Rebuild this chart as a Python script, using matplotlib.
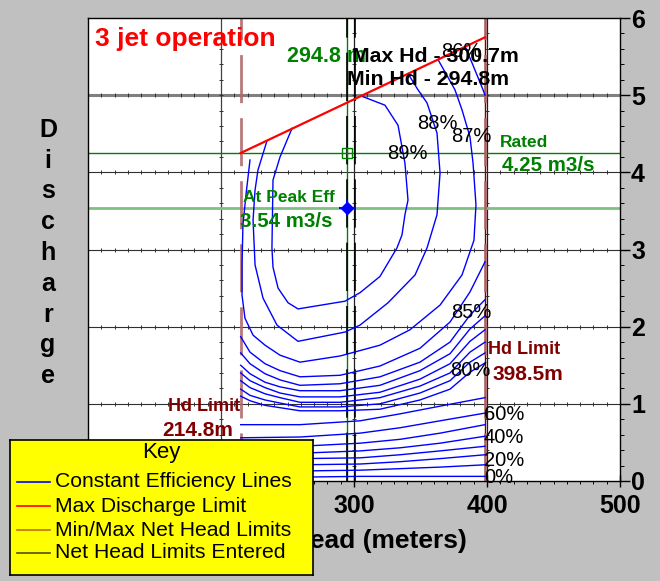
import numpy as np
import matplotlib
matplotlib.use("Agg")
import matplotlib.pyplot as plt
from matplotlib.ticker import MultipleLocator
from matplotlib.lines import Line2D

plt.rcParams['font.family'] = ['Liberation Sans', 'DejaVu Sans']

# ---- limits and operating points ----
hd_min, hd_max = 214.8, 398.5          # net head limits (m)
hd_entered_min, hd_entered_max = 294.8, 300.7
q_rated = 4.25
peak_head, peak_q = 294.8, 3.54
maxq_head = [214.8, 398.5]
maxq_q = [4.25, 5.75]

# ---- constant efficiency lines (head m, discharge m3/s) ----
eff89_h = [253.4, 244.4, 239.1, 238.3, 239.1, 242.9, 250.4, 257.9, 293.2, 304.5,
           319.5, 332.3, 336.1, 338.3, 340.6, 338.3, 333.1, 323.3, 305.3]
eff89_q = [4.57, 4.20, 3.90, 3.02, 2.77, 2.50, 2.31, 2.23, 2.33, 2.44,
           2.65, 3.02, 3.19, 3.45, 3.64, 4.12, 4.61, 4.87, 4.99]

eff88_h = [234.6, 227.8, 225.6, 224.1, 225.6, 231.6, 242.1, 257.9, 293.2, 304.5,
           325.6, 345.9, 354.9, 362.4, 364.7, 362.4, 354.9, 348.1, 340.6]
eff88_q = [4.41, 4.03, 3.77, 3.38, 2.80, 2.37, 2.02, 1.81, 1.93, 2.02,
           2.31, 2.67, 3.02, 3.45, 3.99, 4.51, 4.90, 5.07, 5.28]

eff87_h = [221.8, 218.8, 216.5, 215.8, 215.8, 218.0, 224.1, 233.1, 244.4, 259.4,
           289.5, 319.5, 342.1, 364.7, 381.2, 390.2, 391.7, 389.5, 387.2, 381.2,
           375.9, 363.2]
eff87_q = [4.16, 3.71, 3.32, 2.80, 2.41, 2.11, 1.89, 1.76, 1.63, 1.54,
           1.62, 1.76, 1.96, 2.28, 2.67, 3.12, 3.58, 4.12, 4.46, 4.81,
           5.07, 5.46]

eff86_top_h = [383.5, 388.7, 397.0, 398.5]
eff86_top_q = [5.63, 5.42, 5.07, 5.00]

# lower family, sampled at common heads
band_h = [214.8, 221.8, 233.1, 244.4, 259.4, 289.5, 319.5, 349.6, 372.2, 387.2, 398.5]
band_q = {
    86: [1.87, 1.67, 1.52, 1.43, 1.35, 1.37, 1.49, 1.72, 2.06, 2.45, 2.84],
    85: [1.66, 1.52, 1.39, 1.31, 1.24, 1.26, 1.35, 1.54, 1.80, 2.15, 2.35],
    84: [1.50, 1.39, 1.28, 1.22, 1.17, 1.17, 1.24, 1.43, 1.65, 1.97, 2.14],
    83: [1.40, 1.30, 1.21, 1.14, 1.09, 1.09, 1.15, 1.32, 1.52, 1.81, 1.96],
    82: [1.30, 1.21, 1.13, 1.08, 1.02, 1.02, 1.08, 1.23, 1.40, 1.67, 1.80],
    81: [1.19, 1.11, 1.05, 1.01, 0.96, 0.96, 1.00, 1.14, 1.30, 1.54, 1.66],
    80: [1.10, 1.04, 0.98, 0.95, 0.91, 0.91, 0.93, 1.05, 1.19, 1.41, 1.53],
}
low_h = [214.8, 259.4, 304.5, 334.6, 364.7, 398.5]
low_q = {
    70: [0.73, 0.73, 0.78, 0.87, 0.97, 1.08],
    60: [0.56, 0.57, 0.62, 0.69, 0.78, 0.88],
    50: [0.44, 0.45, 0.49, 0.54, 0.62, 0.73],
    40: [0.36, 0.36, 0.39, 0.43, 0.49, 0.58],
    30: [0.29, 0.29, 0.30, 0.34, 0.39, 0.45],
    20: [0.21, 0.21, 0.22, 0.25, 0.29, 0.34],
    10: [0.13, 0.13, 0.14, 0.16, 0.18, 0.21],
    0:  [0.05, 0.05, 0.06, 0.06, 0.06, 0.06],
}

# contour labels: (text, head, discharge, ha)
eff_labels = [
    ("89%", 339.8, 4.25, "center"), ("88%", 362.4, 4.63, "center"),
    ("87%", 388.0, 4.47, "center"), ("86%", 380.5, 5.57, "center"),
    ("85%", 388.0, 2.18, "center"), ("80%", 387.2, 1.43, "center"),
    ("60%", 397.7, 0.86, "left"), ("40%", 397.7, 0.56, "left"),
    ("20%", 397.7, 0.26, "left"), ("0%", 397.7, 0.04, "left"),
]

BG = '#c0c0c0'
BLUE = '#0000ff'
GREEN = '#008000'
DARKRED = '#800000'
HDLIM = '#b06a6a'

fig = plt.figure(figsize=(6.6, 5.81), dpi=100, facecolor=BG)
ax = fig.add_axes([88/660, 100/581, 532/660, 463/581])
ax.set_facecolor('white')
ax.set_xlim(100, 500)
ax.set_ylim(0, 6)

# grid lines with minor tick marks along them
for q in [1, 2, 3, 4]:
    ax.axhline(q, color='#303030', lw=0.8, zorder=1)
ax.axhline(5, color='#808080', lw=2.2, zorder=1)
for h in [200, 300, 400]:
    ax.axvline(h, color='#202020' if h != 200 else '#404040', lw=0.9, zorder=1)
minor_h = np.arange(100, 501, 10)
minor_q = np.arange(0, 6.01, 0.2)
for q in [1, 2, 3, 4, 5]:
    ax.plot(minor_h, np.full_like(minor_h, q, dtype=float), '|', ms=3.5,
            color='#303030', mew=0.7, zorder=1.1, clip_on=True)
for h in [200, 300, 400]:
    ax.plot(np.full_like(minor_q, h), minor_q, '_', ms=3.5,
            color='#303030', mew=0.7, zorder=1.1)

# rated and peak efficiency discharge lines
ax.axhline(peak_q, color='#80c080', lw=2, zorder=1.5)
ax.axhline(q_rated, color=GREEN, lw=1, zorder=1.5)

# head limits
ax.axvline(hd_entered_min, color=GREEN, lw=1, zorder=2)
ax.axvline(hd_entered_min, color='black', lw=1.2, dashes=(29, 9), zorder=2.1)
ax.axvline(hd_entered_max, color='black', lw=1.2, dashes=(29, 9), zorder=2.1)
ax.axvline(hd_max, color=DARKRED, lw=1, zorder=2)
for h in [hd_min, hd_max]:
    ax.axvline(h, color=HDLIM, lw=2, dashes=(17.3, 5.4), zorder=2, alpha=0.9)

# constant efficiency lines
kw = dict(color=BLUE, lw=1, zorder=3)
ax.plot(eff89_h, eff89_q, **kw)
ax.plot(eff88_h, eff88_q, **kw)
ax.plot(eff87_h, eff87_q, **kw)
ax.plot(eff86_top_h, eff86_top_q, **kw)
for lev, qs in band_q.items():
    ax.plot(band_h, qs, **kw)
for lev, qs in low_q.items():
    ax.plot(low_h, qs, **kw)

# max discharge limit
ax.plot(maxq_head, maxq_q, color='red', lw=1.6, zorder=4)

# markers
ax.plot([peak_head], [peak_q], 'D', color=BLUE, ms=6, zorder=5)
ax.plot([peak_head], [peak_q], '+', color=BLUE, ms=12, mew=1.5, zorder=5)
ax.plot([hd_entered_min], [q_rated], 's', mfc='none', mec=GREEN, ms=7, mew=1, zorder=5)
ax.plot([hd_entered_min], [q_rated], '+', color=GREEN, ms=7, mew=0.8, zorder=5)

# efficiency labels
for txt, h, q, ha in eff_labels:
    ax.text(h, q, txt, fontsize=14.5, ha=ha, va='center', color='black', zorder=6)

# annotations
bold = dict(fontweight='bold', zorder=7)
ax.text(249.6, 5.43, "294.8 m", color=GREEN, fontsize=15.5, **bold)
ax.text(298.5, 5.43, "Max Hd - 300.7m", color='black', fontsize=15.3, **bold)
ax.text(294.7, 5.13, "Min Hd - 294.8m", color='black', fontsize=15.3, **bold)
ax.text(409.8, 4.33, "Rated", color=GREEN, fontsize=12.5, **bold)
ax.text(411.3, 4.02, "4.25 m3/s", color=GREEN, fontsize=14.8, **bold)
ax.text(216.5, 3.62, "At Peak Eff", color=GREEN, fontsize=12.5, **bold)
ax.text(214.3, 3.29, "3.54 m3/s", color=GREEN, fontsize=14.8, **bold)
ax.text(400.8, 1.65, "Hd Limit", color=DARKRED, fontsize=13, **bold)
ax.text(403.8, 1.31, "398.5m", color=DARKRED, fontsize=15, **bold)
ax.text(214.3, 0.91, "Hd Limit", color=DARKRED, fontsize=13, ha='right', **bold)
ax.text(209.0, 0.58, "214.8m", color=DARKRED, fontsize=15, ha='right', **bold)
ax.text(0.013, 0.9395, "3 jet operation", transform=ax.transAxes, color='red',
        fontsize=19, fontweight='bold', zorder=7)

# axes styling
for s in ax.spines.values():
    s.set_color('black')
    s.set_linewidth(1)
ax.yaxis.tick_right()
ax.xaxis.set_major_locator(MultipleLocator(100))
ax.xaxis.set_minor_locator(MultipleLocator(10))
ax.yaxis.set_major_locator(MultipleLocator(1))
ax.yaxis.set_minor_locator(MultipleLocator(0.2))
ax.tick_params(axis='x', which='major', direction='inout', length=9, width=1,
               labelsize=18, pad=5)
ax.tick_params(axis='x', which='minor', direction='out', length=2.5, width=0.7)
ax.tick_params(axis='y', which='major', direction='out', length=7, width=1,
               labelsize=18, pad=1)
ax.tick_params(axis='y', which='minor', direction='out', length=3, width=0.7)
for lbl in ax.get_xticklabels() + ax.get_yticklabels():
    lbl.set_fontweight('bold')
ax.set_xlabel("Net Head (meters)", fontsize=19, fontweight='bold', labelpad=8)

# vertical y label, one letter per line
for i, ch in enumerate("Discharge"):
    fig.text(48/660, 1 - (137 + i*30.75)/581, ch, fontsize=18, fontweight='bold',
             ha='center', va='baseline')

# key box
kax = fig.add_axes([10/660, 6/581, 303/660, 135/581], zorder=10)
kax.set_facecolor('#ffff00')
kax.set_xlim(0, 1)
kax.set_ylim(0, 1)
kax.set_xticks([])
kax.set_yticks([])
for s in kax.spines.values():
    s.set_color('black')
    s.set_linewidth(1.2)
kax.text(0.50, 0.905, "Key", ha='center', va='center', fontsize=16)
key_items = [
    ("Constant Efficiency Lines", BLUE),
    ("Max Discharge Limit", '#ff0000'),
    ("Min/Max Net Head Limits", '#c07010'),
    ("Net Head Limits Entered", '#505000'),
]
key_y = [0.689, 0.511, 0.333, 0.163]
for (txt, col), y in zip(key_items, key_y):
    kax.add_line(Line2D([0.023, 0.132], [y, y], color=col, lw=1.2))
    kax.text(0.149, y, txt, ha='left', va='center', fontsize=15.2)

fig.savefig("out.png", dpi=100, facecolor=BG)
